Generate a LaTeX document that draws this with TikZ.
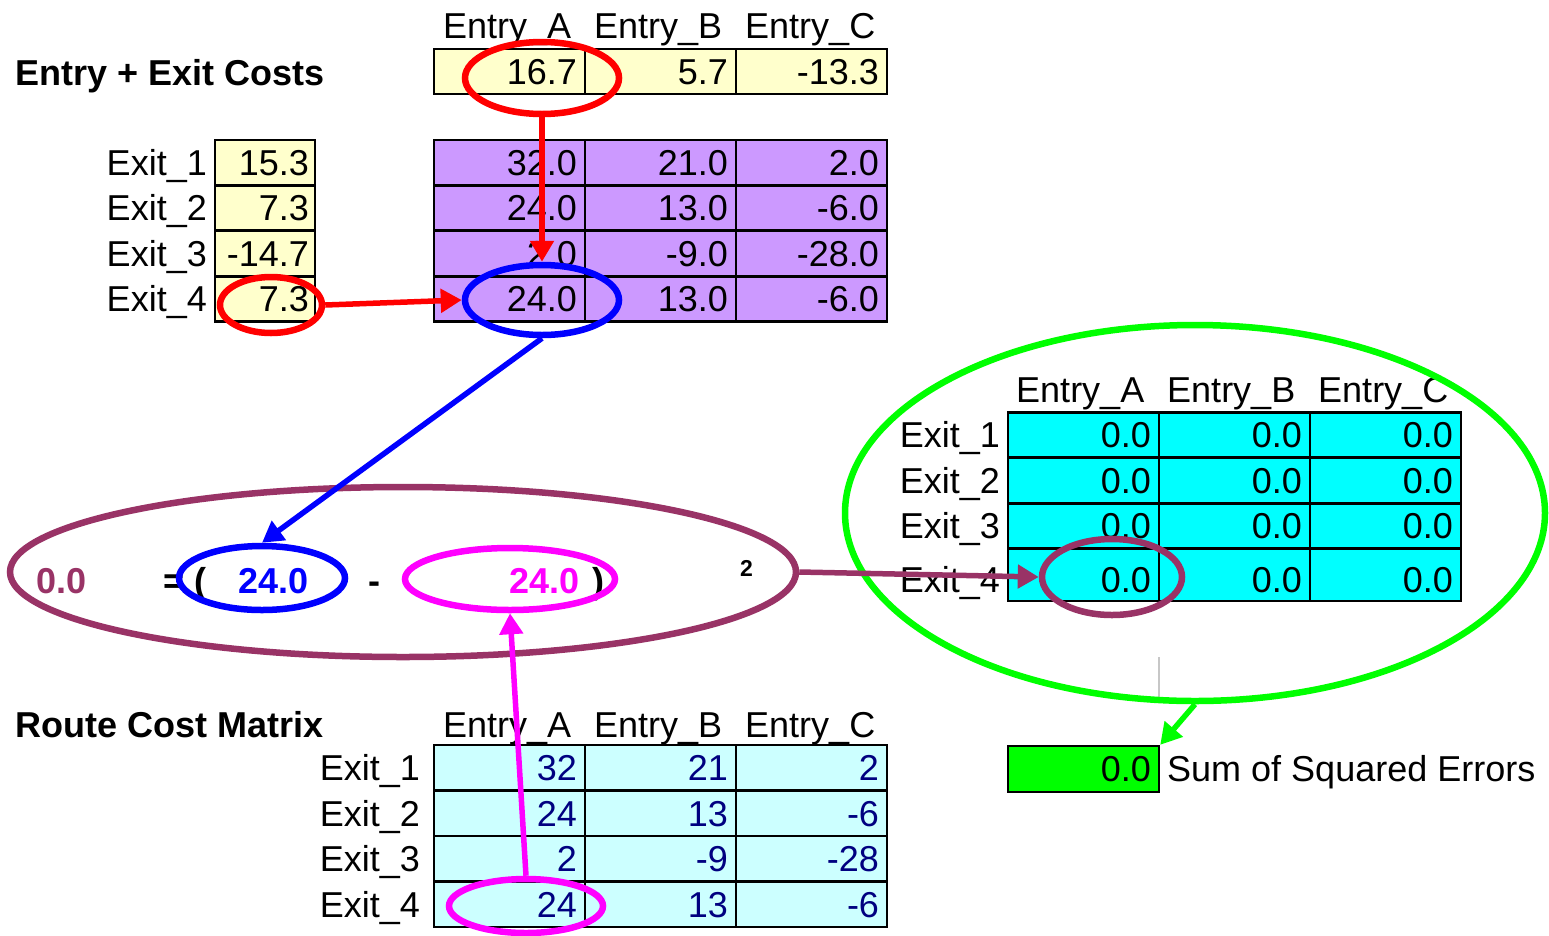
\documentclass[tikz,border=0pt]{standalone}
\usepackage{fontspec}
\setmainfont{Liberation Sans}
\usetikzlibrary{shapes.geometric,arrows.meta}
\definecolor{cellyellow}{HTML}{FFFFCC}
\definecolor{cellpurple}{HTML}{CC99FF}
\definecolor{cellcyan}{HTML}{00FFFF}
\definecolor{celllight}{HTML}{CCFFFF}
\definecolor{cellgreen}{HTML}{00FF00}
\definecolor{navytxt}{HTML}{000080}
\definecolor{plum}{HTML}{993366}
\definecolor{ringred}{HTML}{FF0000}
\definecolor{ringblue}{HTML}{0000FF}
\definecolor{ringmag}{HTML}{FF00FF}
\definecolor{ringgreen}{HTML}{00FF00}
\begin{document}
\begin{tikzpicture}[x=1pt,y=-1pt,
  txt/.style={font=\fontsize{36}{42}\selectfont, inner sep=0pt, text height=25.5pt, text depth=0pt},
  head/.style={font=\fontsize{36}{42}\selectfont, inner sep=0pt, anchor=base west},
  title/.style={font=\bfseries\fontsize{36}{42}\selectfont, inner sep=0pt, anchor=base west},
  lab/.style={txt, anchor=east},
  cell/.style={txt, draw=black, line width=2.4pt, text width=135pt, align=flush right,
               inner xsep=8pt, inner ysep=0pt, minimum height=45pt},
  tallcell/.style={cell, minimum height=52pt, text height=35.5pt},
  narrowcell/.style={cell, text width=88pt, inner xsep=6pt},
  ring/.style={ellipse, draw, line width=6.5pt, inner sep=0pt},
  link/.style={line width=5.5pt, -{Triangle[length=21pt,width=23pt]}},
  eqtxt/.style={font=\bfseries\fontsize{36}{42}\selectfont, inner sep=0pt}
]
\fill[white] (0,0) rectangle (1549,935);
\useasboundingbox (0,0) rectangle (1549,935);

% ---------- Entry + Exit costs ----------
\node[title] (titleCosts) at (15,85) {Entry + Exit Costs};
\foreach \n/\x in {A/443,B/594,C/745}
  \node[head] (hTop\n) at (\x,38) {Entry\_\n};
\foreach \v/\x [count=\i] in {16.7/509.5,5.7/660.5,-13.3/811.5}
  \node[cell, fill=cellyellow] (ec\i) at (\x,71.5) {\v};
\foreach \v/\pad [count=\i] in {15.3/3pt,7.3/3pt,-14.7/0pt,7.3/3pt} {
  \node[narrowcell, fill=cellyellow] (xc\i) at (265,{117+45.5*\i}) {\v\hspace*{\pad}};
  \node[lab] (xl\i) at (207,{117+45.5*\i}) {Exit\_\i};
}
\foreach \rw/\va/\vb/\vc in {1/32.0/21.0/2.0,2/24.0/13.0/-6.0,3/2.0/-9.0/-28.0,4/24.0/13.0/-6.0} {
  \node[cell, fill=cellpurple] (pa\rw) at (509.5,{117+45.5*\rw}) {\va};
  \node[cell, fill=cellpurple] (pb\rw) at (660.5,{117+45.5*\rw}) {\vb};
  \node[cell, fill=cellpurple] (pc\rw) at (811.5,{117+45.5*\rw}) {\vc};
}

% ---------- squared error table ----------
\foreach \n/\x in {A/1016,B/1167,C/1318}
  \node[head] (hSq\n) at (\x,402) {Entry\_\n};
\foreach \rw/\y in {1/435,2/480.5,3/526} {
  \node[lab] (sl\rw) at (1000,\y) {Exit\_\rw};
  \node[cell, fill=cellcyan] (sa\rw) at (1083.5,\y) {0.0};
  \node[cell, fill=cellcyan] (sb\rw) at (1234.5,\y) {0.0};
  \node[cell, fill=cellcyan] (sc\rw) at (1385.5,\y) {0.0};
}
\node[lab, text height=35.5pt] (sl4) at (1000,575) {Exit\_4};
\node[tallcell, fill=cellcyan] (sa4) at (1083.5,575) {0.0};
\node[tallcell, fill=cellcyan] (sb4) at (1234.5,575) {0.0};
\node[tallcell, fill=cellcyan] (sc4) at (1385.5,575) {0.0};

% ---------- sum of squared errors ----------
\node[cell, fill=cellgreen, minimum height=46pt] (gCell) at (1083.5,769) {0.0};
\node[txt, anchor=west] (gLab) at (1167,769) {Sum of Squared Errors};
\coordinate (gy1) at (1159,657);
\coordinate (gy2) at (1159,699);
\draw[line width=2pt, black!22] (gy1) -- (gy2);

% ---------- route cost matrix ----------
\node[title] (titleRoute) at (15,737) {Route Cost Matrix};
\foreach \n/\x in {A/443,B/594,C/745}
  \node[head] (hRt\n) at (\x,737) {Entry\_\n};
\foreach \rw/\va/\vb/\vc in {1/32/21/2,2/24/13/-6,3/2/-9/-28,4/24/13/-6} {
  \node[lab] (rl\rw) at (420,{722.25+45.5*\rw}) {Exit\_\rw};
  \node[cell, fill=celllight, text=navytxt] (ra\rw) at (509.5,{722.25+45.5*\rw}) {\va};
  \node[cell, fill=celllight, text=navytxt] (rb\rw) at (660.5,{722.25+45.5*\rw}) {\vb};
  \node[cell, fill=celllight, text=navytxt] (rc\rw) at (811.5,{722.25+45.5*\rw}) {\vc};
}

% ---------- formula line ----------
\node[eqtxt, text=plum, anchor=base west] (eqRes) at (36,593) {0.0};
\node[eqtxt, anchor=base west] (eqOpen) at (163,593) {= (};
\node[eqtxt, text=ringblue, anchor=base east] (eqA) at (309,593) {24.0};
\node[eqtxt, anchor=base west] (eqMinus) at (368,593) {-};
\node[eqtxt, text=ringmag, anchor=base east] (eqB) at (580,593) {24.0};
\node[eqtxt, anchor=base east] (eqClose) at (605,593) {)};
\node[font=\bfseries\fontsize{23}{27}\selectfont, inner sep=0pt, anchor=base west] (eqPow) at (740,576) {2};

% ---------- highlight rings ----------
\node[ring, draw=ringred, minimum width=154pt, minimum height=72pt] (rTop) at (542,78) {};
\node[ring, draw=ringred, minimum width=102pt, minimum height=56pt] (rExit) at (271,305) {};
\node[ring, draw=ringblue, minimum width=154pt, minimum height=70pt] (bTop) at (542,300) {};
\node[ring, draw=plum, minimum width=786pt, minimum height=170pt] (eqRing) at (403,572) {};
\node[ring, draw=ringblue, minimum width=166pt, minimum height=64pt] (bEq) at (262,578) {};
\node[ring, draw=ringmag, minimum width=210pt, minimum height=62pt] (mEq) at (510,579) {};
\node[ring, draw=ringgreen, minimum width=700pt, minimum height=376pt] (gRing) at (1195,513) {};
\node[ring, draw=plum, minimum width=140pt, minimum height=76pt] (pSq) at (1112,577) {};
\node[ring, draw=ringmag, minimum width=154pt, minimum height=54pt] (mBot) at (526,906) {};

% ---------- flow arrows ----------
\draw[link, ringred] (rTop.south) -- (bTop.north);
\draw[link, ringred] (rExit.east) -- (bTop.west);
\draw[link, ringblue] (bTop.south) -- (bEq.north);
\draw[link, ringmag] (mBot.north) -- (mEq.south);
\draw[link, plum] (eqRing.east) -- (pSq.west);
\draw[link, ringgreen] (gRing.south) -- (gCell.north east);
\end{tikzpicture}
\end{document}
